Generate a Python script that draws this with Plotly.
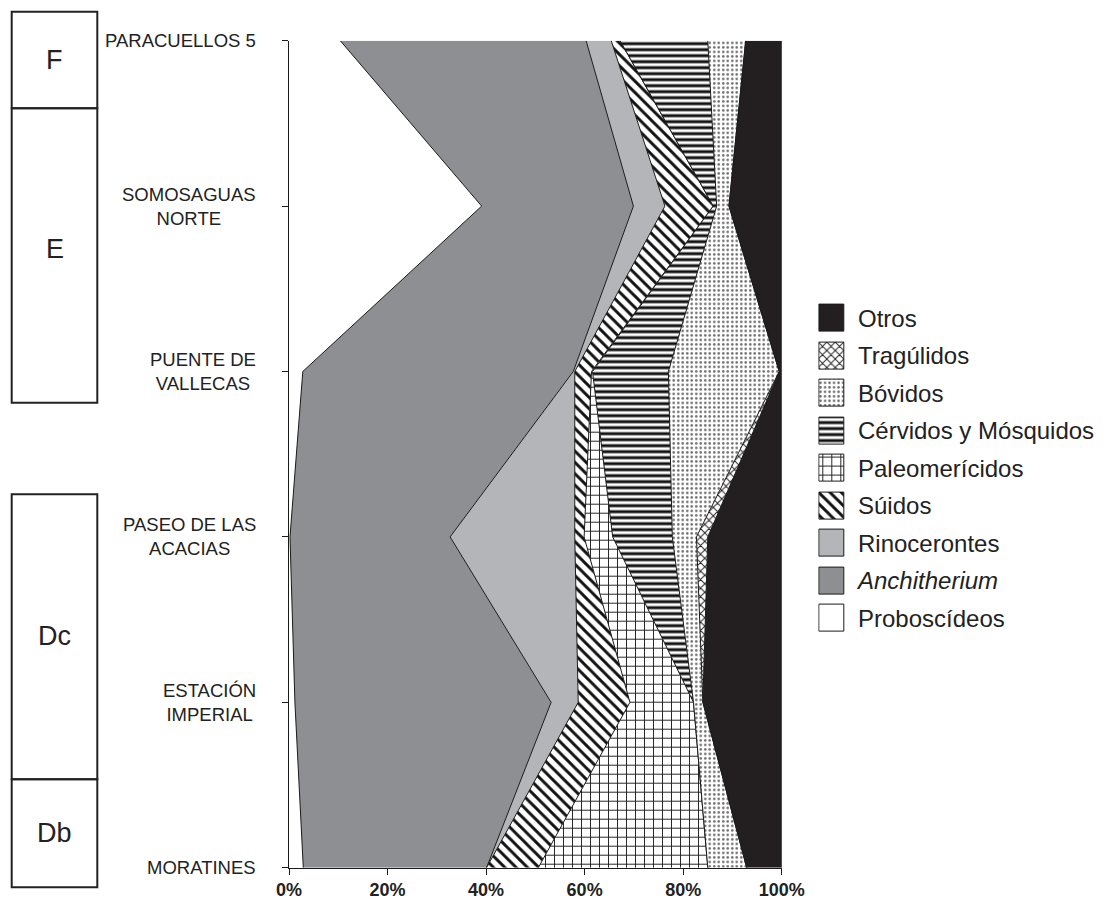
import plotly.graph_objects as go

W, H = 1108, 904

# Localities, bottom (oldest) to top
localities = [
    "MORATINES",
    "ESTACIÓN<br>IMPERIAL",
    "PASEO DE LAS<br>ACACIAS",
    "PUENTE DE<br>VALLECAS",
    "SOMOSAGUAS<br>NORTE",
    "PARACUELLOS 5",
]

# Relative abundance (%) of each group per locality
proboscideos = [2.9, 1.2, 0.2, 2.8, 39.1, 10.4]
anchitherium = [37.2, 52.0, 32.5, 54.9, 30.8, 49.9]
rinocerontes = [0.0, 5.5, 25.3, 0.3, 6.4, 5.1]
suidos = [10.5, 10.5, 1.9, 3.4, 9.8, 1.8]
paleomericidos = [34.4, 12.9, 5.8, 0.2, 0.0, 0.0]
cervidos = [0.0, 0.0, 12.1, 15.4, 0.7, 17.8]
bovidos = [7.9, 1.9, 4.9, 22.5, 2.5, 7.7]
tragulidos = [0.0, 0.0, 2.3, 0.0, 0.0, 0.0]
otros = [7.1, 16.0, 15.0, 0.5, 10.7, 7.3]

group_names = [
    "Proboscídeos", "<i>Anchitherium</i>", "Rinocerontes", "Súidos",
    "Paleomerícidos", "Cérvidos y Mósquidos", "Bóvidos", "Tragúlidos", "Otros",
]
group_values = [
    proboscideos, anchitherium, rinocerontes, suidos, paleomericidos,
    cervidos, bovidos, tragulidos, otros,
]

x_ticks = [0, 20, 40, 60, 80, 100]
x_tick_labels = ["0%", "20%", "40%", "60%", "80%", "100%"]

# Stratigraphic units: (label, top px, bottom px, label px)
units = [
    ("F", 11.7, 108.3, 60),
    ("E", 108.3, 402.7, 249),
    ("Dc", 494.3, 779.3, 636),
    ("Db", 779.3, 887.3, 833),
]

# Fill styles per group
styles = [
    dict(color="#ffffff"),
    dict(color="#8e8f93"),
    dict(color="#b4b5b9"),
    dict(color="#ffffff", shape="\\", fg="#111111", size=8, solidity=0.36),
    dict(color="#ffffff", shape="+", fg="#1e1e1e", size=9, solidity=0.2),
    dict(color="#ffffff", shape="-", fg="#111111", size=6, solidity=0.5),
    dict(color="#ffffff", shape=".", fg="#6a6a6a", size=4.5, solidity=0.25),
    dict(color="#ffffff", shape="x", fg="#222222", size=6, solidity=0.3),
    dict(color="#231f20"),
]

FONT = "Liberation Sans, Arial, sans-serif"
INK = "#1a1a1a"


def px(x):
    return x / W


def py(y):
    return 1 - y / H


def pattern(st):
    if "shape" not in st:
        return None
    return dict(shape=st["shape"], fgcolor=st["fg"], bgcolor=st["color"],
                size=st["size"], solidity=st["solidity"], fillmode="replace")


fig = go.Figure()

ypos = list(range(len(localities)))
for name, vals, st in zip(group_names, group_values, styles):
    kw = dict(
        x=vals, y=ypos, mode="lines", name=name,
        stackgroup="fauna", orientation="h",
        line=dict(color=INK, width=1),
        fillcolor=st["color"], showlegend=False,
        xaxis="x", yaxis="y",
    )
    pat = pattern(st)
    if pat:
        kw["fillpattern"] = pat
    fig.add_trace(go.Scatter(**kw))

# Key swatches
for i, (name, st) in enumerate(zip(group_names, styles)):
    marker = dict(color=st["color"], line=dict(color=INK, width=1))
    pat = pattern(st)
    if pat:
        marker["pattern"] = pat
    fig.add_trace(go.Bar(
        x=[1], y=[i], base=0, orientation="h", width=0.72,
        marker=marker, showlegend=False, xaxis="x2", yaxis="y2",
    ))

shapes = []
annotations = []
for label, top, bottom, ly in units:
    shapes.append(dict(
        type="rect", xref="paper", yref="paper",
        x0=px(11.7), x1=px(97.3), y0=py(bottom), y1=py(top),
        line=dict(color="#222222", width=2), fillcolor="rgba(0,0,0,0)",
    ))
    annotations.append(dict(
        text=label, xref="paper", yref="paper", x=px(54.5), y=py(ly),
        xanchor="center", yanchor="middle", showarrow=False,
        font=dict(family=FONT, size=27, color="#222222"),
    ))

for i, loc in enumerate(localities):
    annotations.append(dict(
        text=loc, xref="paper", yref="y", x=px(258), y=i,
        xanchor="right", yanchor="middle", align="center", showarrow=False,
        font=dict(family=FONT, size=18.5, color="#222222"),
    ))

fig.update_layout(
    width=W, height=H,
    margin=dict(l=0, r=0, t=0, b=0, pad=0, autoexpand=False),
    paper_bgcolor="white", plot_bgcolor="white",
    font=dict(family=FONT, color="#222222"),
    bargap=0,
    xaxis=dict(
        domain=[px(289), px(781.7)], range=[0, 100], anchor="y",
        tickvals=x_ticks, ticktext=x_tick_labels,
        ticks="outside", ticklen=6, tickcolor=INK, tickwidth=1,
        showline=True, linecolor=INK, linewidth=1,
        showgrid=False, zeroline=False, automargin=False,
        tickfont=dict(family=FONT, size=18, color="#222222", weight="bold"),
    ),
    yaxis=dict(
        domain=[py(867.7), py(40.7)], range=[0, 5], anchor="x",
        tickvals=ypos, ticktext=[""] * len(ypos),
        ticks="outside", ticklen=6, tickcolor=INK, tickwidth=1,
        showline=True, linecolor=INK, linewidth=1,
        showgrid=False, zeroline=False, automargin=False,
    ),
    xaxis2=dict(
        domain=[px(818.3), px(845)], range=[-0.03, 1.03], anchor="y2",
        visible=False, automargin=False,
    ),
    yaxis2=dict(
        domain=[py(637.1), py(299.6)], range=[-0.5, 8.5], anchor="x2",
        side="right", tickvals=list(range(len(group_names))),
        ticktext=group_names, ticks="", ticklabelstandoff=12,
        showline=False, showgrid=False, zeroline=False, automargin=False,
        tickfont=dict(family=FONT, size=24, color="#222222"),
    ),
    shapes=shapes,
    annotations=annotations,
)

fig.write_html("out.html")
